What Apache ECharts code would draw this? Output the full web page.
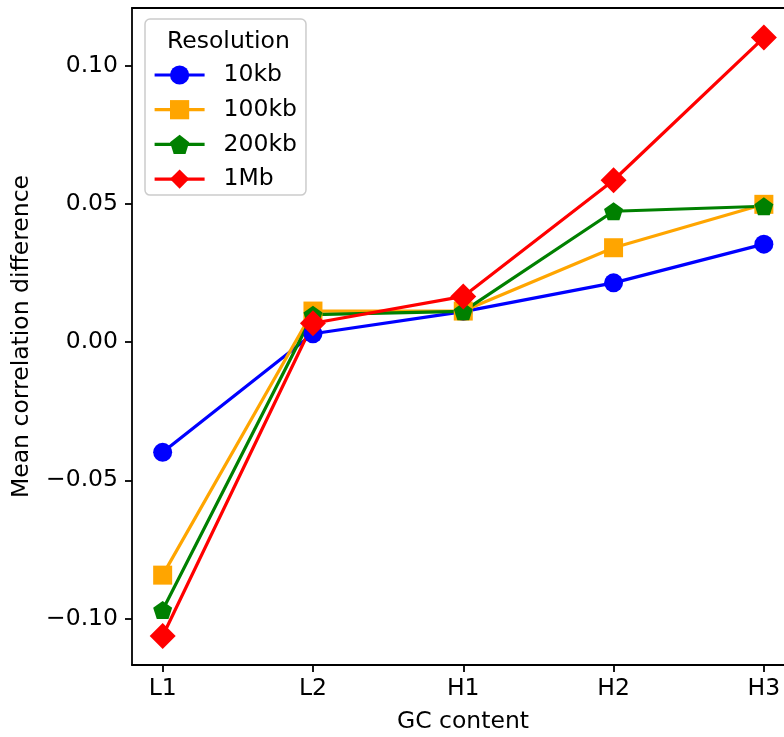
<!DOCTYPE html>
<html>
<head>
<meta charset="utf-8">
<script src="https://cdn.jsdelivr.net/npm/echarts@6/dist/echarts.min.js"></script>
<style>
html,body{margin:0;padding:0;background:#fff;}
#chart{width:784px;height:737px;}
</style>
</head>
<body>
<div id="chart"></div>
<script>
var categories = ['L1', 'L2', 'H1', 'H2', 'H3'];
var seriesNames = ['10kb', '100kb', '200kb', '1Mb'];
var values10kb  = [-0.0399, 0.0030, 0.0110, 0.0214, 0.0354];
var values100kb = [-0.0843, 0.0112, 0.0112, 0.0341, 0.0498];
var values200kb = [-0.0969, 0.0099, 0.0111, 0.0473, 0.0491];
var values1Mb   = [-0.1063, 0.0068, 0.0165, 0.0585, 0.1101];
var yTicks = [-0.10, -0.05, 0.00, 0.05, 0.10];

var FONT = 'DejaVu Sans';
var FS = 23.5;
var colors = ['#0000ff', '#ffa500', '#008000', '#ff0000'];
var symbols = ['circle', 'rect', 'path://M0,-1 L0.951,-0.309 L0.588,0.809 L-0.588,0.809 L-0.951,-0.309 Z', 'diamond'];
var sizes = [19, 19, [19, 18], [26, 26]];
var allValues = [values10kb, values100kb, values200kb, values1Mb];

function pairs(vals) {
  return vals.map(function (v, i) { return [i, v]; });
}

var series = seriesNames.map(function (name, k) {
  return {
    name: name,
    type: 'line',
    data: pairs(allValues[k]),
    symbol: symbols[k],
    symbolSize: sizes[k],
    showAllSymbol: true,
    lineStyle: { color: colors[k], width: 3.2 },
    itemStyle: { color: colors[k], borderWidth: 0 },
    emphasis: { disabled: true },
    clip: false,
    animation: false
  };
});

var chart = echarts.init(document.getElementById('chart'), null, { renderer: 'canvas' });
chart.setOption({
  backgroundColor: '#ffffff',
  animation: false,
  textStyle: { fontFamily: FONT },
  grid: { left: 132, top: 8, right: 0, height: 657, containLabel: false, outerBoundsMode: 'none' },
  title: {
    text: 'Resolution',
    left: 162, top: 25,
    textStyle: { fontFamily: FONT, fontSize: FS, fontWeight: 'normal', color: '#000' },
    z: 10
  },
  legend: {
    orient: 'vertical',
    left: 145, top: 19,
    data: seriesNames,
    itemWidth: 50, itemHeight: 24, itemGap: 10.7,
    padding: [44, 9, 4, 8],
    backgroundColor: 'rgba(255,255,255,0.85)',
    borderColor: '#cccccc', borderWidth: 1.5, borderRadius: 5,
    lineStyle: { width: 3.2 },
    textStyle: { fontFamily: FONT, fontSize: FS, color: '#000', padding: [0, 0, 0, 14] },
    selectedMode: false
  },
  xAxis: [{
    type: 'value',
    min: -0.204, max: 4.134,
    name: 'GC content', nameLocation: 'middle', nameGap: 45,
    nameTextStyle: { fontFamily: FONT, fontSize: FS, color: '#000', padding: [0, 0, 0, 10] },
    axisLine: { show: true, onZero: false, lineStyle: { color: '#000', width: 1.8 } },
    axisTick: { show: true, length: 7, lineStyle: { color: '#000', width: 1.8 }, customValues: [0, 1, 2, 3, 4] },
    axisLabel: {
      fontFamily: FONT, fontSize: FS, color: '#000', margin: 12,
      customValues: [0, 1, 2, 3, 4],
      formatter: function (v) { return categories[Math.round(v)]; }
    },
    splitLine: { show: false }
  }, {
    type: 'value',
    position: 'top',
    min: -0.204, max: 4.134,
    axisLine: { show: true, onZero: false, lineStyle: { color: '#000', width: 1.8 } },
    axisTick: { show: false },
    axisLabel: { show: false },
    splitLine: { show: false }
  }],
  yAxis: {
    type: 'value',
    min: -0.1168, max: 0.1208,
    name: 'Mean correlation difference', nameLocation: 'middle', nameGap: 98,
    nameTextStyle: { fontFamily: FONT, fontSize: FS, color: '#000' },
    axisLine: { show: true, onZero: false, lineStyle: { color: '#000', width: 1.8 } },
    axisTick: { show: true, length: 7, lineStyle: { color: '#000', width: 1.8 }, customValues: yTicks },
    axisLabel: {
      fontFamily: FONT, fontSize: FS, color: '#000', margin: 14,
      customValues: yTicks,
      formatter: function (v) { return (v < 0 ? '\u2212' : '') + Math.abs(v).toFixed(2); }
    },
    splitLine: { show: false }
  },
  series: series
});
</script>
</body>
</html>
